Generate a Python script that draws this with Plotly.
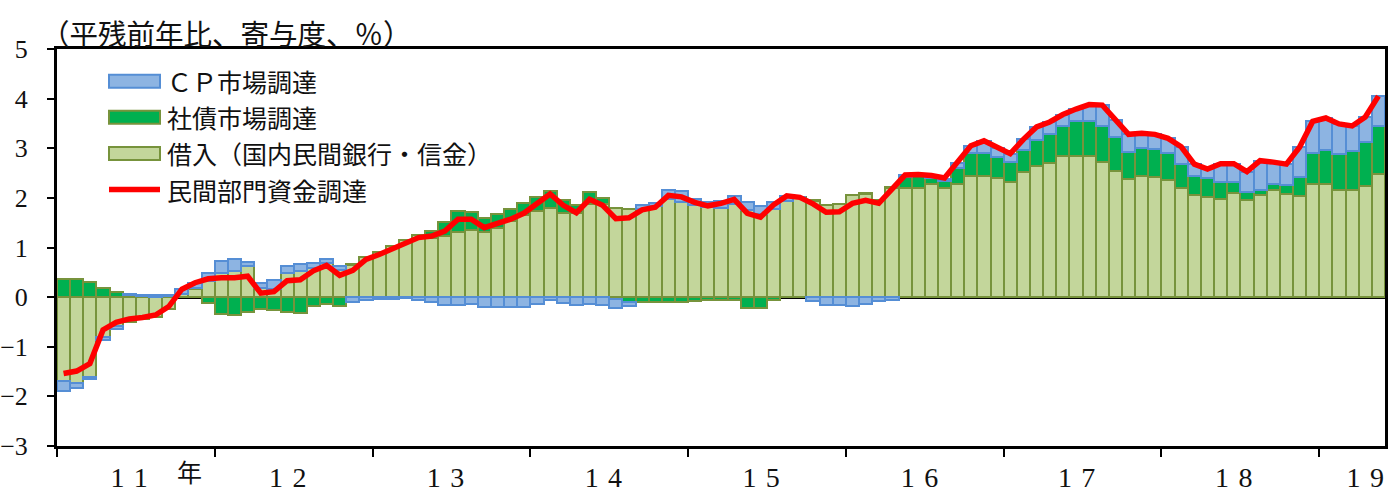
import plotly.graph_objects as go

# Monthly data, 2011/01 .. 2019/05 (contributions, % y/y of average outstanding)
borrowing = [-1.69, -1.73, -1.61, -0.81, -0.59, -0.50, -0.45, -0.41, -0.24, 0.06,
             0.16, 0.33, 0.49, 0.53, 0.63, 0.19, 0.17, 0.49, 0.53, 0.59,
             0.68, 0.54, 0.64, 0.81, 0.91, 1.03, 1.16, 1.26, 1.20, 1.23,
             1.31, 1.35, 1.31, 1.39, 1.53, 1.65, 1.73, 1.79, 1.69, 1.69,
             1.88, 1.88, 1.79, 1.77, 1.78, 1.83, 1.98, 1.91, 1.85, 1.81,
             1.80, 1.88, 1.76, 1.68, 1.78, 1.93, 2.01, 1.93, 1.86, 1.87,
             2.05, 2.07, 1.96, 2.20, 2.20, 2.20, 2.28, 2.20, 2.28, 2.45,
             2.45, 2.40, 2.31, 2.53, 2.65, 2.71, 2.85, 2.85, 2.85, 2.73,
             2.55, 2.38, 2.45, 2.43, 2.36, 2.19, 2.05, 2.01, 1.98, 2.09,
             1.95, 2.05, 2.15, 2.07, 2.03, 2.28, 2.27, 2.15, 2.15, 2.23,
             2.48]
bonds = [0.36, 0.36, 0.31, 0.18, 0.11, 0.04, 0.02, 0.01, 0.02, 0.00,
         0.02, -0.12, -0.33, -0.37, -0.29, -0.23, -0.25, -0.29, -0.31, -0.17,
         -0.14, -0.17, 0.02, 0.00, 0.00, 0.00, 0.00, 0.00, 0.13, 0.28,
         0.42, 0.36, 0.29, 0.29, 0.25, 0.25, 0.29, 0.35, 0.27, 0.17,
         0.23, 0.11, -0.03, -0.09, -0.10, -0.10, -0.10, -0.10, -0.07, -0.06,
         -0.05, -0.05, -0.22, -0.22, -0.05, 0.00, 0.00, 0.02, 0.00, 0.00,
         0.01, 0.02, 0.00, 0.02, 0.23, 0.25, 0.13, 0.15, 0.32, 0.45,
         0.45, 0.43, 0.42, 0.43, 0.51, 0.57, 0.60, 0.69, 0.70, 0.71,
         0.67, 0.55, 0.55, 0.55, 0.55, 0.49, 0.40, 0.39, 0.33, 0.22,
         0.16, 0.10, 0.12, 0.18, 0.40, 0.63, 0.69, 0.73, 0.79, 0.89,
         0.97]
cp = [-0.20, -0.10, -0.03, -0.05, -0.05, 0.03, 0.03, 0.03, 0.02, 0.10,
      0.11, 0.15, 0.23, 0.23, 0.08, 0.10, 0.17, 0.13, 0.13, 0.10,
      0.09, 0.09, -0.10, -0.05, -0.04, -0.03, -0.02, -0.05, -0.10, -0.16,
      -0.16, -0.14, -0.19, -0.20, -0.19, -0.20, -0.13, -0.05, -0.12, -0.15,
      -0.13, -0.15, -0.19, -0.08, 0.07, 0.07, 0.18, 0.22, 0.13, 0.10,
      0.14, 0.15, 0.15, 0.15, 0.13, 0.11, 0.00, -0.07, -0.15, -0.15,
      -0.17, -0.14, -0.07, -0.05, 0.03, 0.02, 0.04, 0.03, 0.11, 0.15,
      0.25, 0.18, 0.16, 0.22, 0.27, 0.25, 0.23, 0.25, 0.33, 0.43,
      0.35, 0.35, 0.28, 0.30, 0.29, 0.35, 0.23, 0.18, 0.38, 0.38,
      0.42, 0.60, 0.45, 0.43, 0.59, 0.63, 0.65, 0.61, 0.51, 0.51,
      0.60]
total = [-1.54, -1.49, -1.34, -0.66, -0.51, -0.44, -0.41, -0.36, -0.19, 0.16,
         0.29, 0.37, 0.39, 0.39, 0.42, 0.08, 0.11, 0.33, 0.35, 0.53,
         0.64, 0.44, 0.54, 0.76, 0.86, 0.97, 1.10, 1.20, 1.23, 1.33,
         1.57, 1.57, 1.40, 1.48, 1.57, 1.69, 1.88, 2.08, 1.85, 1.70,
         1.97, 1.85, 1.58, 1.60, 1.76, 1.81, 2.05, 2.02, 1.91, 1.84,
         1.89, 1.97, 1.69, 1.61, 1.86, 2.04, 2.01, 1.88, 1.71, 1.72,
         1.89, 1.95, 1.89, 2.17, 2.46, 2.47, 2.45, 2.40, 2.71, 3.05,
         3.15, 3.01, 2.89, 3.18, 3.43, 3.53, 3.68, 3.79, 3.88, 3.87,
         3.57, 3.28, 3.30, 3.28, 3.20, 3.03, 2.68, 2.58, 2.69, 2.69,
         2.53, 2.75, 2.72, 2.68, 3.02, 3.54, 3.61, 3.49, 3.45, 3.63,
         4.05]

SP = "\u2004"
year_labels = ["1" + SP + "1", "1" + SP + "2", "1" + SP + "3", "1" + SP + "4",
               "1" + SP + "5", "1" + SP + "6", "1" + SP + "7", "1" + SP + "8",
               "1" + SP + "9"]
year_label_pos = [4.98, 17.05, 29.05, 41.05, 53.05, 65.1, 77.05, 89.0, 99.0]
year_bounds = [-0.5, 11.5, 23.5, 35.5, 47.5, 59.5, 71.5, 83.5, 95.5]
y_ticks = [-3, -2, -1, 0, 1, 2, 3, 4, 5]

series_names = ["ＣＰ市場調達", "社債市場調達", "借入（国内民間銀行・信金）", "民間部門資金調達"]
unit_title = "（平残前年比、寄与度、％）"

x = list(range(len(borrowing)))

C_BORROW, C_BORROW_LINE = "#C3D69B", "#77933C"
C_BOND, C_BOND_LINE = "#00B050", "#77933C"
C_CP, C_CP_LINE = "#8DB4E2", "#558ED5"
C_TOTAL = "#FF0000"

fig = go.Figure()
fig.add_trace(go.Bar(x=x, y=borrowing, name=series_names[2], width=1,
                     marker=dict(color=C_BORROW, line=dict(color=C_BORROW_LINE, width=2))))
fig.add_trace(go.Bar(x=x, y=bonds, name=series_names[1], width=1,
                     marker=dict(color=C_BOND, line=dict(color=C_BOND_LINE, width=2))))
fig.add_trace(go.Bar(x=x, y=cp, name=series_names[0], width=1,
                     marker=dict(color=C_CP, line=dict(color=C_CP_LINE, width=2))))
fig.add_trace(go.Scatter(x=x, y=total, name=series_names[3], mode="lines",
                         line=dict(color=C_TOTAL, width=5.5)))

W, H = 1388, 492
ML, MR, MT, MB = 57, 3, 48.5, 45.5
PW, PH = W - ML - MR, H - MT - MB


def px(xp):
    return (xp - ML) / PW


def py(yp):
    return (H - MB - yp) / PH


serif = "Liberation Serif, Noto Sans CJK JP"
jp = "Noto Sans CJK JP"

shapes = []
annotations = []
leg_rows = [80.8, 117.0, 153.2, 189.4]
leg_fill = [(C_CP, C_CP_LINE), (C_BOND, C_BOND_LINE), (C_BORROW, C_BORROW_LINE)]
for i, (fc, lc) in enumerate(leg_fill):
    yc = leg_rows[i]
    shapes.append(dict(type="rect", xref="paper", yref="paper",
                       x0=px(109), x1=px(160), y0=py(yc - 6.5), y1=py(yc + 6.5),
                       fillcolor=fc, line=dict(color=lc, width=2), layer="above"))
shapes.append(dict(type="line", xref="paper", yref="paper",
                   x0=px(109), x1=px(160), y0=py(leg_rows[3]), y1=py(leg_rows[3]),
                   line=dict(color=C_TOTAL, width=5.5), layer="above"))
for i, name in enumerate(series_names):
    annotations.append(dict(text=name, xref="paper", yref="paper",
                            x=px(165), y=py(leg_rows[i]),
                            xanchor="left", yanchor="middle", showarrow=False,
                            font=dict(family=jp, size=25, color="#111")))

annotations.append(dict(text=unit_title, xref="paper", yref="paper",
                        x=px(39), y=py(32), xanchor="left", yanchor="middle", showarrow=False,
                        font=dict(family=jp, size=28.5, color="#111")))
annotations.append(dict(text="年", xref="x", yref="paper", x=9.6, y=py(471.5),
                        xanchor="center", yanchor="middle", showarrow=False,
                        font=dict(family=jp, size=25, color="#111")))

fig.update_layout(
    width=W, height=H,
    margin=dict(l=ML, r=MR, t=MT, b=MB, autoexpand=False),
    barmode="relative", bargap=0,
    showlegend=False,
    plot_bgcolor="white", paper_bgcolor="white",
    shapes=shapes, annotations=annotations,
    xaxis=dict(range=[-0.5, 100.5], showgrid=False, zeroline=False, automargin=False,
               showline=True, linecolor="black", linewidth=3, mirror=True,
               tickmode="array", tickvals=year_label_pos, ticktext=year_labels,
               ticks="", ticklabelstandoff=4,
               tickfont=dict(family=serif, size=28, color="#111"),
               minor=dict(tickmode="array", tickvals=year_bounds, ticks="outside",
                          ticklen=8, tickwidth=2, tickcolor="black", showgrid=False)),
    yaxis=dict(range=[-3, 5], tickmode="array", tickvals=y_ticks, automargin=False,
               showgrid=False, zeroline=True, zerolinecolor="black", zerolinewidth=3,
               showline=True, linecolor="black", linewidth=3, mirror=True,
               ticks="outside", ticklen=7, tickwidth=2, tickcolor="black",
               ticklabelstandoff=14,
               tickfont=dict(family=serif, size=26, color="#111")),
)

fig.write_html("out.html", config={"displayModeBar": False},
               post_script="document.body.style.margin='0px';")
